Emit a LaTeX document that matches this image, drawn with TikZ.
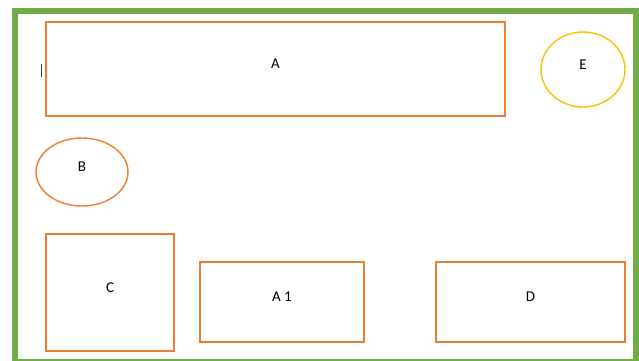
\documentclass[tikz,border=0pt]{standalone}
\usepackage{fontspec}
\setmainfont{Carlito}
\usetikzlibrary{shapes.geometric, positioning}
\definecolor{frame-green}{HTML}{70AD47}
\definecolor{box-orange}{HTML}{ED7D31}
\definecolor{oval-gold}{HTML}{FFC000}
\begin{document}
\begin{tikzpicture}[
  x=1pt, y=-1pt,
  frame/.style={draw=frame-green, line width=6pt},
  box/.style={rectangle, draw=box-orange, line width=1.4pt, inner sep=0pt,
              text depth=10pt, font=\fontsize{15}{17}\selectfont},
  oval/.style={ellipse, draw=box-orange, line width=1.4pt, inner sep=0pt,
               text depth=10pt, font=\fontsize{15}{17}\selectfont},
  cursor/.style={draw=black!75, line width=1pt}
]
  \useasboundingbox (0,0) rectangle (639,360);
  \draw[frame] (15,11) rectangle (636,362.2);

  \node[box, minimum width=459pt, minimum height=94pt] (a) at (275.5,69) {A};
  \node[oval, draw=oval-gold, minimum width=84pt, minimum height=75pt] (e) at (583,69.5) {E};
  \node[oval, minimum width=92pt, minimum height=68pt] (b) at (82,172) {B};
  \node[box, minimum width=128pt, minimum height=117pt] (c) at (110,292.5) {C};
  \node[box, minimum width=164pt, minimum height=80pt] (a1) at (282,302) {A 1};
  \node[box, minimum width=189pt, minimum height=80pt] (d) at (530.5,302) {D};

  % text cursor left of A
  \draw[cursor] (41,64) -- (41,77);

\end{tikzpicture}
\end{document}
